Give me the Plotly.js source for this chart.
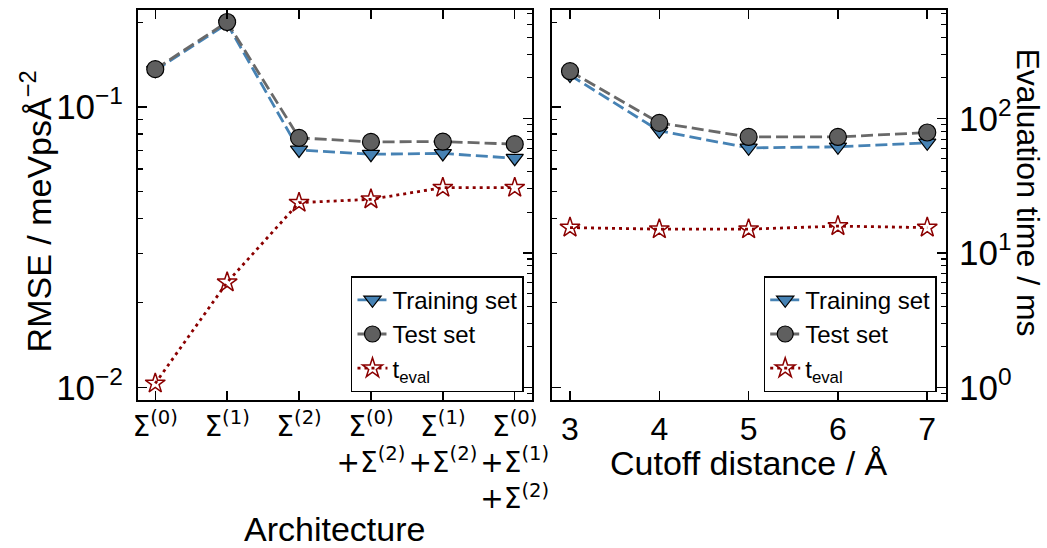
<!DOCTYPE html>
<html><head><meta charset="utf-8">
<script src="https://cdn.plot.ly/plotly-3.0.1.min.js"></script>
<style>html,body{margin:0;padding:0;background:#fff}</style>
</head><body><div id="chart" style="width:1047px;height:548px"></div>
<script>
// ---- data ----
const architectures = [
  "Σ<sup>(0)</sup>",
  "Σ<sup>(1)</sup>",
  "Σ<sup>(2)</sup>",
  "Σ<sup>(0)</sup><br>+Σ<sup>(2)</sup>",
  "Σ<sup>(1)</sup><br>+Σ<sup>(2)</sup>",
  "Σ<sup>(0)</sup><br>+Σ<sup>(1)</sup><br>+Σ<sup>(2)</sup>"
];
const archTrainRMSE = [0.135, 0.198, 0.0702, 0.0678, 0.0682, 0.0656];
const archTestRMSE  = [0.1363, 0.2007, 0.0775, 0.0750, 0.0752, 0.0736];
const archEvalTime  = [1.07, 6.04, 23.6, 25.0, 30.5, 30.5];

const cutoffs = [3, 4, 5, 6, 7];
const cutoffTrainRMSE = [0.1298, 0.0821, 0.0714, 0.0720, 0.0744];
const cutoffTestRMSE  = [0.134, 0.0877, 0.0781, 0.0781, 0.0810];
const cutoffEvalTime  = [15.4, 15.0, 15.0, 15.8, 15.4];

const rmseTickVals = [0.01, 0.1];
const rmseTickText = ["10<sup>−2</sup>", "10<sup>−1</sup>"];
const evalTickVals = [1, 10, 100];
const evalTickText = ["10<sup>0</sup>", "10<sup>1</sup>", "10<sup>2</sup>"];

const seriesNames = ["Training set", "Test set", "t<sub>eval</sub>"];

// ---- styling ----
const FONT = "Liberation Sans, Arial, Helvetica, sans-serif";
const MATHFONT = "DejaVu Sans, sans-serif";
const trainColor = "#4682b4";
const testLine = "#696969";
const testFill = "#5f5f5f";
const evalColor = "#8b0000";

function minorVals(lo, hi) {
  const out = [];
  for (let e = lo; e <= hi; e++) for (let m = 2; m <= 9; m++) out.push(m * Math.pow(10, e));
  return out;
}

function trainTrace(x, y, xa, ya, lg) {
  return {x, y, xaxis: xa, yaxis: ya, legend: lg, name: seriesNames[0], type: "scatter", mode: "lines+markers",
    line: {color: trainColor, width: 2.8, dash: "12px,5px"},
    marker: {symbol: "triangle-down", size: 15, color: trainColor, line: {color: "black", width: 1.2}}};
}
function testTrace(x, y, xa, ya, lg) {
  return {x, y, xaxis: xa, yaxis: ya, legend: lg, name: seriesNames[1], type: "scatter", mode: "lines+markers",
    line: {color: testLine, width: 2.8, dash: "12px,5px"},
    marker: {symbol: "circle", size: 17, color: testFill, line: {color: "black", width: 1.2}}};
}
function evalTrace(x, y, xa, ya, lg) {
  return {x, y, xaxis: xa, yaxis: ya, legend: lg, name: seriesNames[2], type: "scatter", mode: "lines+markers",
    line: {color: evalColor, width: 2.8, dash: "3px,4px"},
    marker: {symbol: "star-open", size: 15, color: evalColor, line: {color: evalColor, width: 1.5}}};
}

const data = [
  trainTrace(architectures, archTrainRMSE, "x", "y", "legend"),
  testTrace(architectures, archTestRMSE, "x", "y", "legend"),
  evalTrace(architectures, archEvalTime, "x", "y2", "legend"),
  trainTrace(cutoffs, cutoffTrainRMSE, "x2", "y3", "legend2"),
  testTrace(cutoffs, cutoffTestRMSE, "x2", "y3", "legend2"),
  evalTrace(cutoffs, cutoffEvalTime, "x2", "y4", "legend2")
];

const tickCommon = {ticks: "inside", ticklen: 9, tickwidth: 1.5, tickcolor: "black",
  showline: true, linecolor: "black", linewidth: 2, showgrid: false, zeroline: false};
const rmseRange = [-2.0454, -0.6546];
const evalRange = [-0.094, 2.805];
const rmseMinor = {tickmode: "array", tickvals: minorVals(-3, -1), ticks: "inside", ticklen: 5, tickwidth: 1.2, tickcolor: "black", showgrid: false};
const evalMinor = {tickmode: "array", tickvals: minorVals(-1, 2), ticks: "inside", ticklen: 5, tickwidth: 1.2, tickcolor: "black", showgrid: false};

const legendCommon = {bordercolor: "black", borderwidth: 1.5, bgcolor: "white",
  font: {family: FONT, size: 24, color: "black"}, yanchor: "bottom", xanchor: "right",
  y: 0.02, tracegroupgap: 0, itemwidth: 30};

const layout = {
  width: 1047, height: 548,
  margin: {l: 138, r: 101, t: 10, b: 148},
  paper_bgcolor: "white", plot_bgcolor: "white",
  font: {family: FONT, color: "black"},
  showlegend: true,
  xaxis: Object.assign({}, tickCommon, {domain: [0, 0.4876], anchor: "y", type: "category",
    range: [-0.24, 5.24], mirror: "ticks", tickangle: 0, tickfont: {size: 28, family: MATHFONT}}),
  yaxis: Object.assign({}, tickCommon, {anchor: "x", type: "log", range: rmseRange, tickmode: "array",
    tickvals: rmseTickVals, ticktext: rmseTickText, tickfont: {size: 35, family: FONT},
    ticklabelstandoff: 6, minor: rmseMinor}),
  yaxis2: Object.assign({}, tickCommon, {anchor: "x", overlaying: "y", side: "right", type: "log",
    range: evalRange, tickmode: "array", tickvals: evalTickVals, ticktext: evalTickText,
    showticklabels: false, minor: evalMinor}),
  xaxis2: Object.assign({}, tickCommon, {domain: [0.512, 1], anchor: "y3", range: [2.795, 7.21],
    tickmode: "array", tickvals: cutoffs, mirror: "ticks", tickangle: 0, tickfont: {size: 32, family: FONT}}),
  yaxis3: Object.assign({}, tickCommon, {anchor: "x2", type: "log", range: rmseRange, tickmode: "array",
    tickvals: rmseTickVals, ticktext: rmseTickText, showticklabels: false, minor: rmseMinor}),
  yaxis4: Object.assign({}, tickCommon, {anchor: "x2", overlaying: "y3", side: "right", type: "log",
    range: evalRange, tickmode: "array", tickvals: evalTickVals, ticktext: evalTickText,
    tickfont: {size: 35, family: FONT}, ticklabelstandoff: 4, minor: evalMinor}),
  legend: Object.assign({}, legendCommon, {x: 0.4777}),
  legend2: Object.assign({}, legendCommon, {x: 0.9885}),
  annotations: [
    {text: "RMSE / meVpsÅ<sup>−2</sup>", xref: "paper", yref: "paper", x: -0.127, y: 0.4846,
     xanchor: "center", yanchor: "middle", textangle: -90, showarrow: false, font: {size: 34, family: FONT}},
    {text: "Architecture", xref: "paper", yref: "paper", x: 0.2438, y: -0.332,
     xanchor: "center", yanchor: "middle", showarrow: false, font: {size: 34, family: FONT}},
    {text: "Cutoff distance / Å", xref: "paper", yref: "paper", x: 0.756, y: -0.1615,
     xanchor: "center", yanchor: "middle", showarrow: false, font: {size: 34, family: FONT}},
    {text: "Evaluation time / ms", xref: "paper", yref: "paper", x: 1.102, y: 0.531,
     xanchor: "center", yanchor: "middle", textangle: 90, showarrow: false, font: {size: 32, family: FONT}}
  ]
};

Plotly.newPlot("chart", data, layout, {displayModeBar: false, staticPlot: true});
</script></body></html>
